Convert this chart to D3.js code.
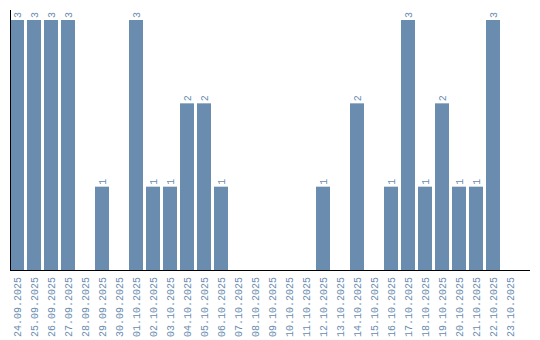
<!DOCTYPE html>
<html>
<head>
<meta charset="utf-8">
<script src="https://cdn.jsdelivr.net/npm/d3@7"></script>
<style>
  body { margin: 0; background: #fff; }
  svg text { font-family: "Liberation Mono", monospace; fill: #6a8caf; }
</style>
</head>
<body>
<svg id="chart" width="540" height="340"></svg>
<script>
// Dates and daily counts
const dates = ["24.09.2025","25.09.2025","26.09.2025","27.09.2025","28.09.2025","29.09.2025","30.09.2025",
  "01.10.2025","02.10.2025","03.10.2025","04.10.2025","05.10.2025","06.10.2025","07.10.2025","08.10.2025",
  "09.10.2025","10.10.2025","11.10.2025","12.10.2025","13.10.2025","14.10.2025","15.10.2025","16.10.2025",
  "17.10.2025","18.10.2025","19.10.2025","20.10.2025","21.10.2025","22.10.2025","23.10.2025"];
const counts = [3,3,3,3,0,1,0,3,1,1,2,2,1,0,0,0,0,0,1,0,2,0,1,3,1,2,1,1,3,0];
const yMax = 3;

const svg = d3.select("#chart");
const x = d3.scaleBand().domain(dates).range([10, 517]).paddingInner(3 / 17).paddingOuter(0);
const y = d3.scaleLinear().domain([0, yMax]).range([270, 20]);

const rows = dates.map((d, i) => ({date: d, v: counts[i]})).filter(d => d.v > 0);

// Bars
svg.selectAll(".bar")
    .data(rows)
    .enter().append("rect")
        .attr("x", d => x(d.date))
        .attr("y", d => y(d.v))
        .attr("width", x.bandwidth())
        .attr("height", d => y(0) - y(d.v))
        .attr("fill", "#6a8caf");

// Value labels
svg.selectAll(".val")
    .data(rows)
    .enter().append("text")
        .attr("transform", d => "translate(" + (x(d.date) + x.bandwidth() / 2 + 3.5) + "," + (y(d.v) - 2) + ") rotate(-90)")
        .attr("font-size", 10)
        .text(d => d.v);

// Axes lines
svg.append("line").attr("x1", 10.5).attr("x2", 10.5).attr("y1", 10).attr("y2", 270).attr("stroke", "#000");
svg.append("line").attr("x1", 10).attr("x2", 530).attr("y1", 270.5).attr("y2", 270.5).attr("stroke", "#000");

// Date labels
svg.selectAll(".lab")
    .data(dates)
    .enter().append("text")
        .attr("transform", d => "translate(" + (x(d) + x.bandwidth() / 2 + 3.5) + ",277) rotate(-90)")
        .attr("text-anchor", "end")
        .attr("font-size", 10)
        .text(d => d);
</script>
</body>
</html>
